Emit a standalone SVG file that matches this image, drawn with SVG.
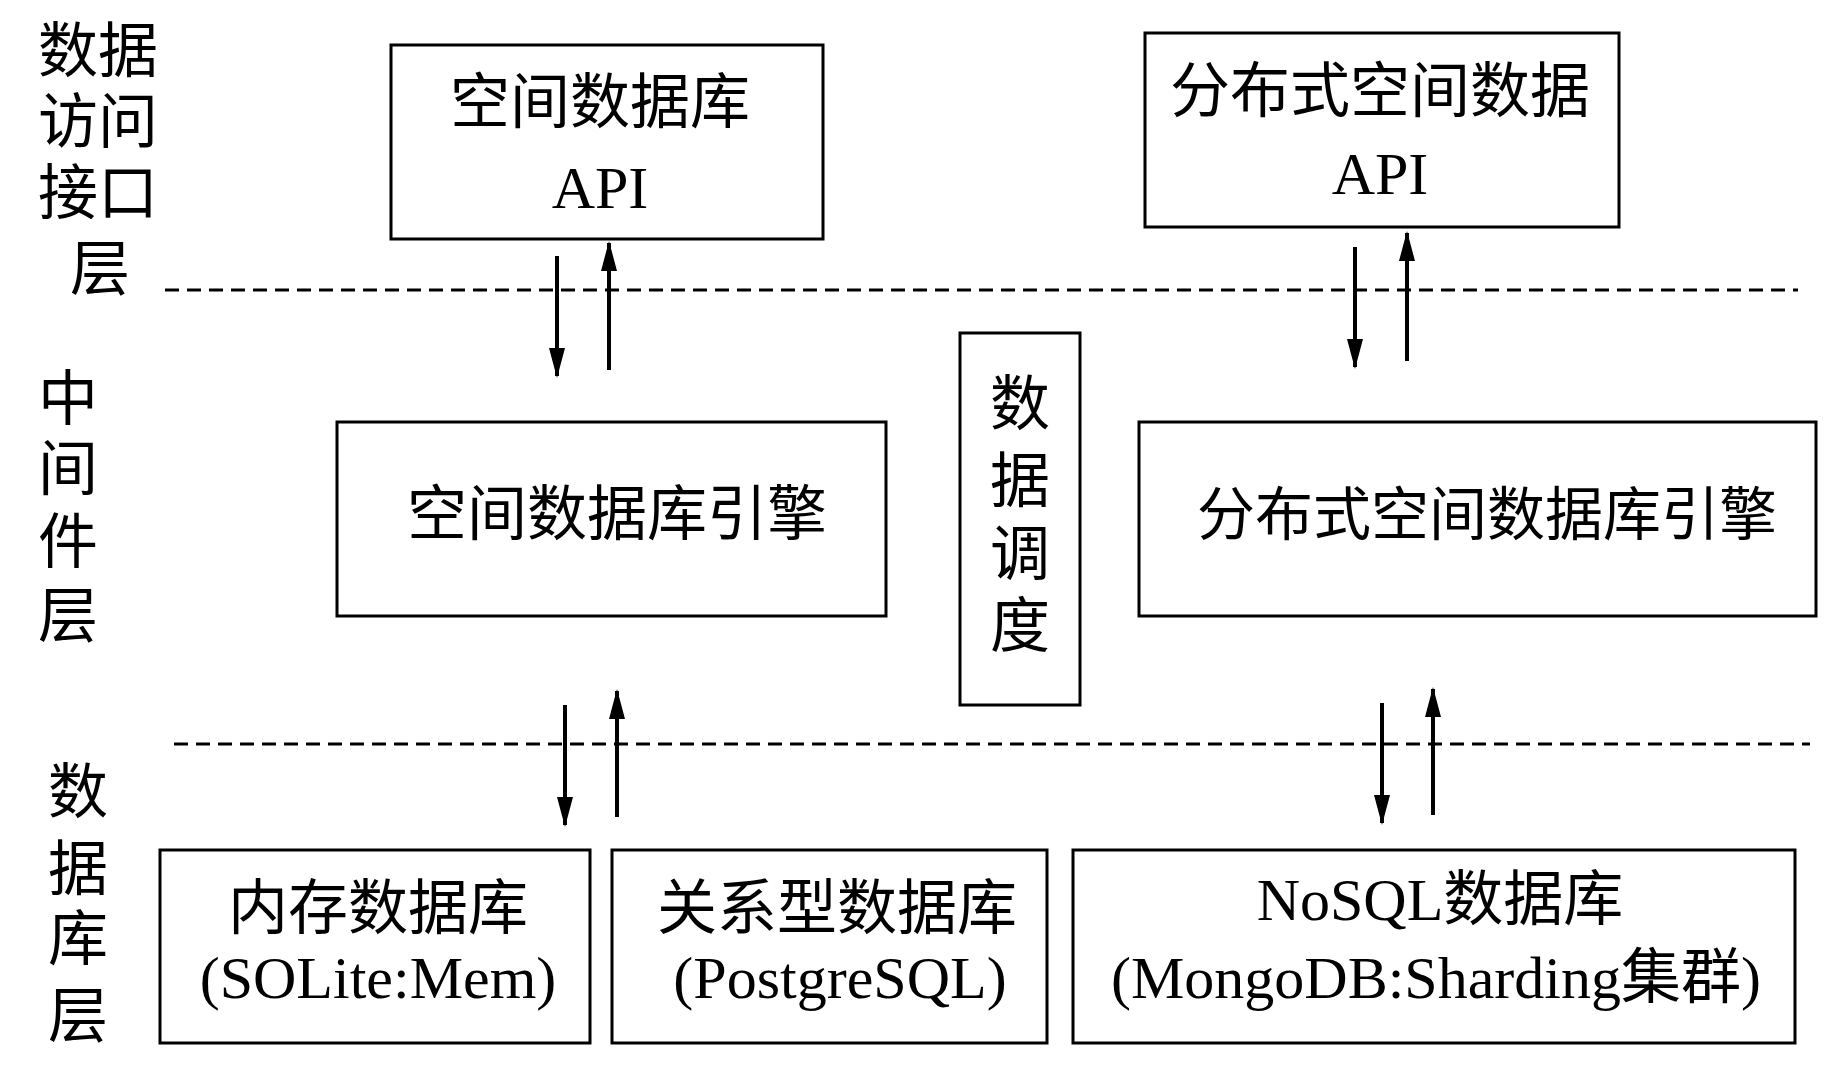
<svg xmlns="http://www.w3.org/2000/svg" width="1843" height="1087" viewBox="0 0 1843 1087">
<style>
text{font-family:"Liberation Serif","Noto Sans CJK SC",serif;font-size:60px;fill:#000;text-anchor:middle;dominant-baseline:central}
.t{font-size:58px}
.b{fill:#fff;stroke:#000;stroke-width:3}
.d{stroke:#000;stroke-width:3;stroke-dasharray:14 8;fill:none}
.a{stroke:#000;stroke-width:4;fill:none;marker-end:url(#ah)}
</style>
<defs><marker id="ah" markerWidth="30" markerHeight="16" refX="28" refY="8" orient="auto" markerUnits="userSpaceOnUse" viewBox="0 0 30 16"><path d="M0,0 L30,8 L0,16 Z" fill="#000"/></marker></defs>
<rect width="1843" height="1087" fill="#fff"/>
<g id="layer-labels">
<text x="98" y="52">数据</text><text x="98" y="123">访问</text><text x="98" y="194">接口</text><text x="100" y="270">层</text>
<text x="68" y="400">中</text><text x="68" y="470">间</text><text x="68" y="543">件</text><text x="68" y="617">层</text>
<text x="78" y="793">数</text><text x="78" y="870">据</text><text x="78" y="940">库</text><text x="78" y="1017">层</text>
</g>
<g id="n1"><rect class="b" x="391" y="45" width="432" height="194"/><text x="600" y="103">空间数据库</text><text x="600" y="188">API</text></g>
<g id="n2"><rect class="b" x="1145" y="33" width="474" height="194"/><text x="1380" y="92">分布式空间数据</text><text x="1380" y="174">API</text></g>
<g id="n3"><rect class="b" x="337" y="422" width="549" height="194"/><text x="617" y="515">空间数据库引擎</text></g>
<g id="n4"><rect class="b" x="960" y="333" width="120" height="372"/><text x="1020" y="405">数</text><text x="1020" y="482">据</text><text x="1020" y="555">调</text><text x="1020" y="627">度</text></g>
<g id="n5"><rect class="b" x="1139" y="422" width="677" height="194"/><text x="1487" y="515" class="t">分布式空间数据库引擎</text></g>
<g id="n6"><rect class="b" x="160" y="850" width="430" height="193"/><text x="378" y="909">内存数据库</text><text x="378" y="978">(SOLite:Mem)</text></g>
<g id="n7"><rect class="b" x="612" y="850" width="435" height="193"/><text x="837" y="909">关系型数据库</text><text x="840" y="978">(PostgreSQL)</text></g>
<g id="n8"><rect class="b" x="1073" y="850" width="722" height="193"/><text x="1440" y="900">NoSQL数据库</text><text x="1436" y="978">(MongoDB:Sharding集群)</text></g>
<g id="connectors">
<line class="d" x1="165" y1="290" x2="1798" y2="290"/>
<line class="d" x1="174" y1="744" x2="1810" y2="744"/>
<line class="a" x1="557" y1="256" x2="557" y2="376"/>
<line class="a" x1="609" y1="370" x2="609" y2="243"/>
<line class="a" x1="1355" y1="247" x2="1355" y2="367"/>
<line class="a" x1="1407" y1="361" x2="1407" y2="233"/>
<line class="a" x1="565" y1="705" x2="565" y2="825"/>
<line class="a" x1="617" y1="817" x2="617" y2="691"/>
<line class="a" x1="1382" y1="703" x2="1382" y2="823"/>
<line class="a" x1="1433" y1="815" x2="1433" y2="689"/>
</g>
</svg>
